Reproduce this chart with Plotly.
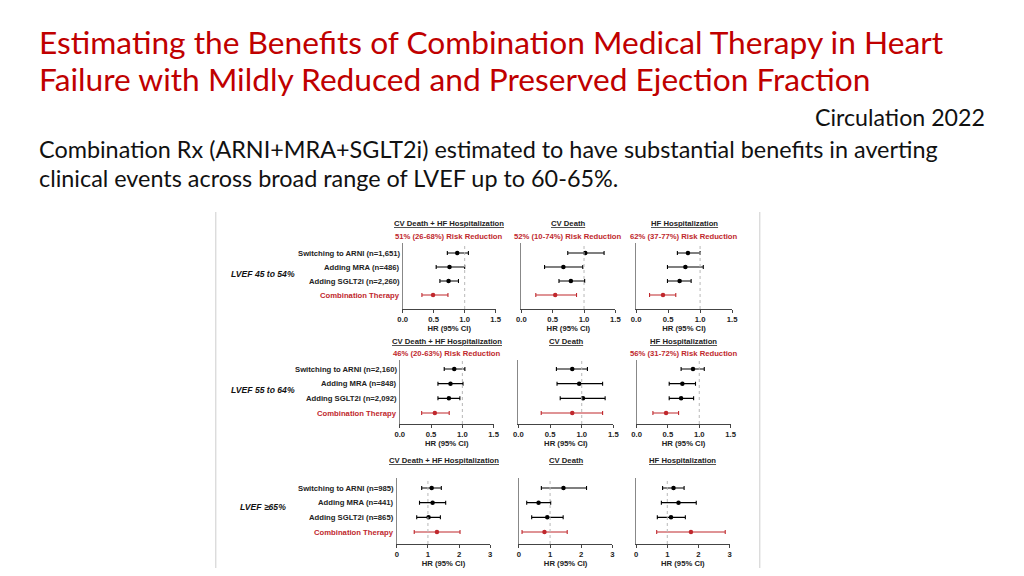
import plotly.graph_objects as go
from plotly.subplots import make_subplots

# slide text
title_lines = ["Estimating the Benefits of Combination Medical Therapy in Heart",
               "Failure with Mildly Reduced and Preserved Ejection Fraction"]
source_text = "Circulation 2022"
summary_lines = ["Combination Rx (ARNI+MRA+SGLT2i) estimated to have substantial benefits in averting",
                 "clinical events across broad range of LVEF up to 60-65%."]

# forest plot data
endpoints = ["CV Death + HF Hospitalization", "CV Death", "HF Hospitalization"]
strata = ["LVEF 45 to 54%", "LVEF 55 to 64%", "LVEF ≥65%"]

labels_45 = ["Switching to ARNI (n=1,651)", "Adding MRA (n=486)", "Adding SGLT2i (n=2,260)", "Combination Therapy"]
labels_55 = ["Switching to ARNI (n=2,160)", "Adding MRA (n=848)", "Adding SGLT2i (n=2,092)", "Combination Therapy"]
labels_65 = ["Switching to ARNI (n=985)", "Adding MRA (n=441)", "Adding SGLT2i (n=865)", "Combination Therapy"]

risk_45 = ["51% (26-68%) Risk Reduction", "52% (10-74%) Risk Reduction", "62% (37-77%) Risk Reduction"]
risk_55 = ["46% (20-63%) Risk Reduction", "", "56% (31-72%) Risk Reduction"]
risk_65 = ["", "", ""]

# one list per endpoint: ARNI, MRA, SGLT2i, combination
hr_45 = [[0.88, 0.755, 0.74, 0.49], [1.02, 0.67, 0.79, 0.54], [0.81, 0.77, 0.68, 0.42]]
lo_45 = [[0.72, 0.54, 0.60, 0.31], [0.74, 0.37, 0.60, 0.23], [0.645, 0.49, 0.49, 0.21]]
hi_45 = [[1.06, 1.00, 0.90, 0.73], [1.32, 0.98, 1.01, 0.88], [1.00, 1.05, 0.86, 0.62]]

hr_55 = [[0.87, 0.81, 0.785, 0.56], [0.85, 0.96, 1.02, 0.85], [0.90, 0.73, 0.71, 0.47]]
lo_55 = [[0.71, 0.61, 0.61, 0.35], [0.60, 0.61, 0.66, 0.36], [0.71, 0.52, 0.52, 0.26]]
hi_55 = [[1.04, 1.01, 0.96, 0.79], [1.09, 1.33, 1.37, 1.33], [1.08, 0.94, 0.91, 0.67]]

hr_65 = [[1.12, 1.15, 1.02, 1.29], [1.43, 0.63, 0.91, 0.82], [1.20, 1.36, 1.12, 1.76]]
lo_65 = [[0.80, 0.73, 0.64, 0.56], [0.72, 0.25, 0.41, 0.10], [0.85, 0.81, 0.68, 0.66]]
hi_65 = [[1.43, 1.57, 1.40, 2.03], [2.17, 1.02, 1.42, 1.55], [1.54, 1.93, 1.58, 2.86]]

ticks_low = [0, 0.5, 1.0, 1.5]
ticklabels_low = ["0.0", "0.5", "1.0", "1.5"]
ticks_high = [0, 1, 2, 3]
ticklabels_high = ["0", "1", "2", "3"]

# the page body has an 8px margin, so the figure is 16px smaller than the window
OFF = 8
W, H = 1024 - 2 * OFF, 576 - 2 * OFF
RED = "#C00000"
DARKRED = "#C0282D"
SMALL = 7.7
ARIAL = "Liberation Sans, Arial"
CAL = "Lato, Carlito, Calibri"


def px(x):
    return (x - OFF) / W


def py(y):
    return 1 - (y - OFF) / H


# pixel layout (window coordinates) of the pasted figure
col_px = [[(402, 496), (522, 617), (638, 735)],
          [(399, 494), (519, 615), (638.5, 733.5)],
          [(396, 490.5), (519.5, 614), (638, 732.5)]]
row_px = [(243, 253, 295, 309), (360, 369, 413, 424), (478, 488, 532, 544)]  # top, first row, last row, axis
title_y = [224, 341, 460]
risk_y = [236, 353, None]
stratum_y = [274, 390, 507]

rows_data = [(labels_45, risk_45, hr_45, lo_45, hi_45),
             (labels_55, risk_55, hr_55, lo_55, hi_55),
             (labels_65, risk_65, hr_65, lo_65, hi_65)]
xticks = [(ticks_low, ticklabels_low), (ticks_low, ticklabels_low), (ticks_high, ticklabels_high)]

fig = make_subplots(rows=3, cols=3)

for r, (labels, risks, hr, lo, hi) in enumerate(rows_data):
    top, first, last, axis = row_px[r]
    sp = (last - first) / 3
    ymin = -(axis - last) / sp
    ymax = 3 + (first - top) / sp
    ypos = [3, 2, 1, 0]
    tv, tt = xticks[r]
    for c in range(3):
        n = r * 3 + c + 1
        xname = "x" if n == 1 else f"x{n}"
        yname = "y" if n == 1 else f"y{n}"
        for k in range(4):
            color = DARKRED if k == 3 else "black"
            fig.add_trace(go.Scatter(
                x=[hr[c][k]], y=[ypos[k]],
                mode="markers",
                marker=dict(color=color, size=4.5),
                error_x=dict(type="data", symmetric=False,
                             array=[hi[c][k] - hr[c][k]], arrayminus=[hr[c][k] - lo[c][k]],
                             color=color, thickness=1.1, width=2),
                showlegend=False,
                hovertemplate=f"{labels[k]}<br>HR %{{x}}<extra></extra>"
            ), row=r + 1, col=c + 1)

        x0, x1 = col_px[r][c]
        fig.update_xaxes(domain=[px(x0), px(x1)], range=[tv[0], tv[-1]],
                         tickvals=tv, ticktext=tt,
                         tickfont=dict(family=ARIAL, size=SMALL, color="#222", weight="bold"),
                         showline=True, linecolor="#444", linewidth=1.1,
                         ticks="outside", ticklen=3, tickwidth=1, tickcolor="#444",
                         showgrid=False, zeroline=False,
                         title=dict(text="HR (95% CI)", standoff=1,
                                    font=dict(family=ARIAL, size=SMALL, color="#222", weight="bold")),
                         row=r + 1, col=c + 1)

        fig.update_yaxes(domain=[py(axis), py(top)], range=[ymin, ymax],
                         showticklabels=False,
                         showline=True, linecolor="#888", linewidth=1.1,
                         ticks="", showgrid=False, zeroline=False,
                         row=r + 1, col=c + 1)

        fig.add_vline(x=1, line=dict(color="#b8b8b8", width=1, dash="dot"), row=r + 1, col=c + 1)

        if c == 0:
            for k in range(4):
                fig.add_annotation(x=0, y=ypos[k], xref=xname, yref=yname,
                                   text=f"<b>{labels[k]}</b>", showarrow=False,
                                   xanchor="right", yanchor="middle", xshift=-1,
                                   font=dict(family=ARIAL, size=SMALL,
                                             color=DARKRED if k == 3 else "#222"))

        xc = px((x0 + x1) / 2)
        fig.add_annotation(x=xc, y=py(title_y[r]), xref="paper", yref="paper",
                           text=f"<b><u>{endpoints[c]}</u></b>", showarrow=False,
                           xanchor="center", yanchor="middle",
                           font=dict(family=ARIAL, size=SMALL, color="#222"))
        if risks[c]:
            fig.add_annotation(x=xc, y=py(risk_y[r]), xref="paper", yref="paper",
                               text=f"<b>{risks[c]}</b>", showarrow=False,
                               xanchor="center", yanchor="middle",
                               font=dict(family=ARIAL, size=SMALL, color=DARKRED))

    fig.add_annotation(x=px(261), y=py(stratum_y[r]), xref="paper", yref="paper",
                       text=f"<b><i>{strata[r]}</i></b>", showarrow=False,
                       xanchor="center", yanchor="middle",
                       font=dict(family=ARIAL, size=8.6, color="#111"))

# slide text
for i, line in enumerate(title_lines):
    fig.add_annotation(x=px(32), y=py(42 + 37 * i), xref="paper", yref="paper",
                       text=line, showarrow=False, xanchor="left", yanchor="middle", align="left",
                       font=dict(family=CAL, size=31.7, color=RED))
fig.add_annotation(x=px(993), y=py(117), xref="paper", yref="paper",
                   text=source_text, showarrow=False, xanchor="right", yanchor="middle", align="right",
                   font=dict(family=CAL, size=23.2, color="#111"))
for i, line in enumerate(summary_lines):
    fig.add_annotation(x=px(32), y=py(149 + 29 * i), xref="paper", yref="paper",
                       text=line, showarrow=False, xanchor="left", yanchor="middle", align="left",
                       font=dict(family=CAL, size=23.4, color="#111"))

# frame of the pasted figure
for xp in (213, 763):
    fig.add_shape(type="line", xref="paper", yref="paper",
                  x0=px(xp), x1=px(xp), y0=0, y1=py(212),
                  line=dict(color="#d6d6d6", width=1.2))

fig.update_layout(width=W, height=H, margin=dict(l=0, r=0, t=0, b=0),
                  paper_bgcolor="white", plot_bgcolor="white", showlegend=False)

fig.write_html("out.html")
